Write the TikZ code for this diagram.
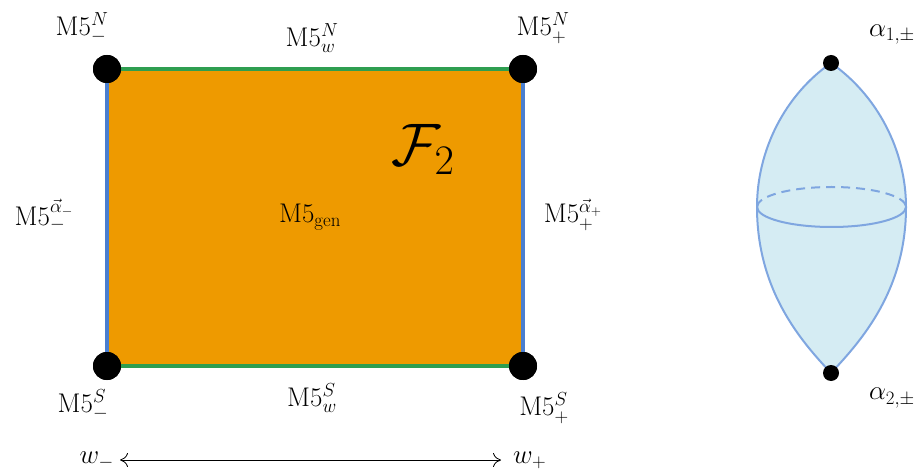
\documentclass[tikz,border=0pt]{standalone}
\usepackage{fix-cm}
\usepackage{fontspec}
\usetikzlibrary{arrows.meta}
\definecolor{orng}{HTML}{EE9A00}
\definecolor{grn}{HTML}{2E9E50}
\definecolor{blu}{HTML}{4A7FD0}
\definecolor{lensfill}{HTML}{D5ECF3}
\definecolor{lensline}{HTML}{7FA6E0}
\tikzset{
  dot/.style={circle,fill=black,inner sep=0pt,minimum size=28pt},
  smalldot/.style={circle,fill=black,inner sep=0pt,minimum size=16pt},
  lbl/.style={inner sep=0pt,font=\fontsize{27}{32}\selectfont},
  big/.style={inner sep=0pt,font=\fontsize{60}{70}\selectfont},
}
\begin{document}
\begin{tikzpicture}[x=1pt,y=-1pt]
\useasboundingbox (0,0) rectangle (921,470);
% rectangle
\fill[orng] (107,69) rectangle (523,366);
\node[dot] (nw) at (107,69) {};
\node[dot] (ne) at (523,69) {};
\node[dot] (sw) at (107,366) {};
\node[dot] (se) at (523,366) {};
\draw[grn,line width=4pt] (nw) -- (ne);
\draw[grn,line width=4pt] (sw) -- (se);
\draw[blu,line width=4pt] (nw) -- (sw);
\draw[blu,line width=4pt] (ne) -- (se);
\node[dot] at (nw) {};
\node[dot] at (ne) {};
\node[dot] at (sw) {};
\node[dot] at (se) {};
% labels
\node[lbl] (lnw) at (82,28) {M5$_-^N$};
\node[lbl] (lnn) at (312,38) {M5$_w^N$};
\node[lbl] (lne) at (543,28) {M5$_+^N$};
\node[lbl] (lw) at (44,215) {M5$_-^{\vec\alpha_-}$};
\node[lbl] (le) at (573,215) {M5$_+^{\vec\alpha_+}$};
\node[lbl] (lgen) at (310,217) {M5$_{\mathrm{gen}}$};
\node[big] (F) at (423,150) {$\mathcal{F}_2$};
\node[lbl] (lsw) at (83,405) {M5$_-^S$};
\node[lbl] (lss) at (312,398) {M5$_w^S$};
\node[lbl] (lse) at (544,408) {M5$_+^S$};
\node[lbl,anchor=east] (wm) at (114,460) {$w_-$};
\node[lbl,anchor=west] (wp) at (513,460) {$w_+$};
\draw[{To[length=8pt,width=14pt]}-{To[length=8pt,width=14pt]},line width=0.8pt] ([xshift=6pt]wm.east) -- ([xshift=-12pt]wp.west);
% lens
\coordinate (top) at (831,63);
\coordinate (bot) at (831,373);
\fill[lensfill] (top) .. controls (785,95) and (757,150) .. (757,207)
  .. controls (757,290) and (800,340) .. (bot)
  .. controls (862,340) and (906,290) .. (906,207)
  .. controls (906,150) and (877,95) .. (top) -- cycle;
\draw[lensline,line width=2pt] (top) .. controls (785,95) and (757,150) .. (757,207)
  .. controls (757,290) and (800,340) .. (bot)
  .. controls (862,340) and (906,290) .. (906,207)
  .. controls (906,150) and (877,95) .. (top) -- cycle;
\draw[lensline,line width=2pt,dash pattern=on 9pt off 6pt] (757,207) arc[start angle=180,end angle=360,x radius=74.5,y radius=20];
\draw[lensline,line width=2pt] (757,207) arc[start angle=180,end angle=0,x radius=74.5,y radius=20];
\node[smalldot] (p1) at (top) {};
\node[smalldot] (p2) at (bot) {};
\node[lbl] (a1) at (892,35) {$\alpha_{1,\pm}$};
\node[lbl] (a2) at (892,398) {$\alpha_{2,\pm}$};
\end{tikzpicture}
\end{document}
